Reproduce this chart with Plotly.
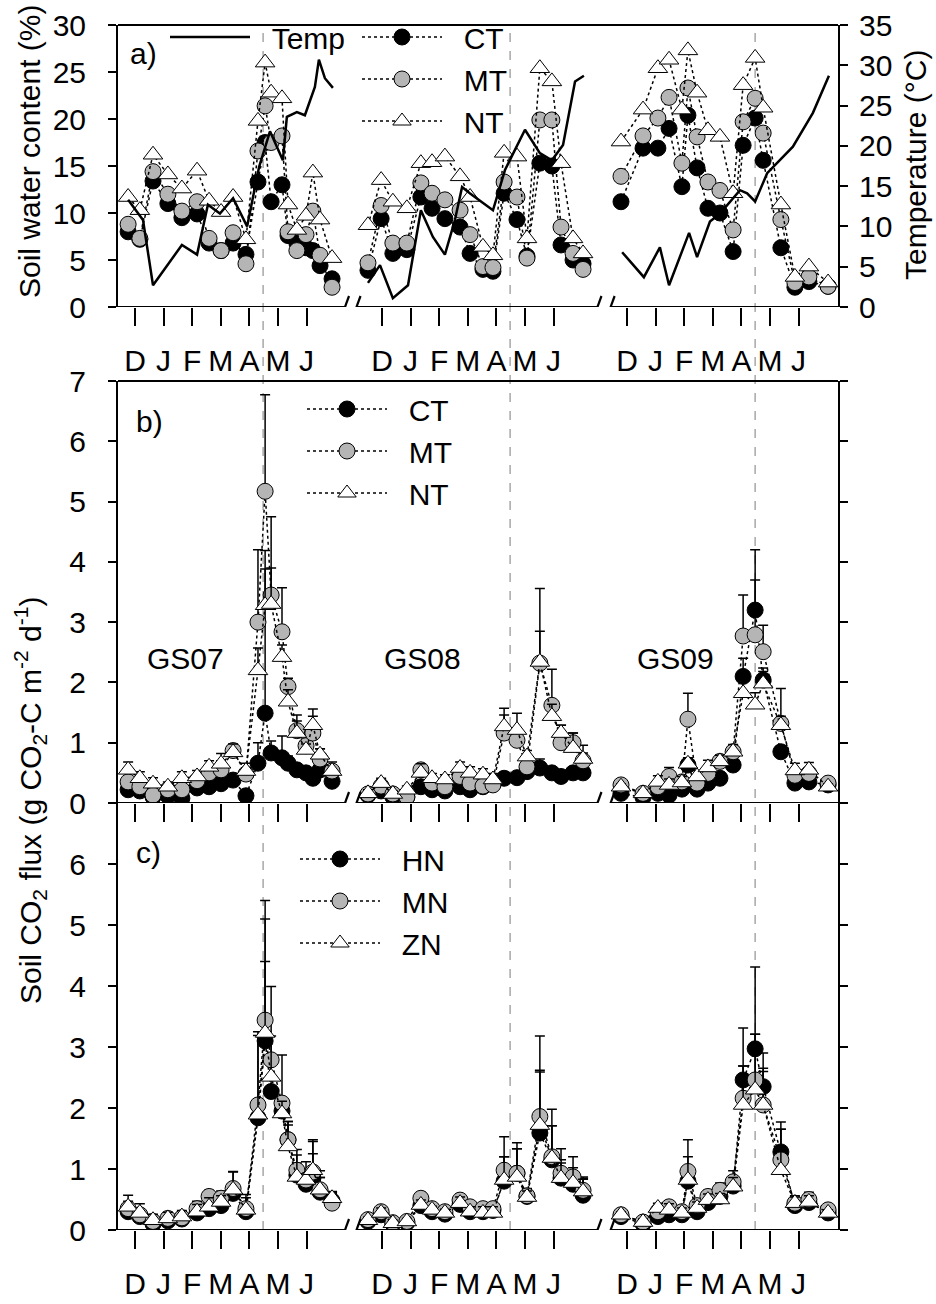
import plotly.graph_objects as go

FONT = "Liberation Sans, Arial, sans-serif"

# ---------------- data ----------------
month_labels = ["D", "J", "F", "M", "A", "M", "J"]
season_names = ["GS07", "GS08", "GS09"]

# sampling dates in months after the December tick of each growing season
dates_gs07 = [-0.24, 0.17, 0.63, 1.15, 1.64, 2.17, 2.59, 3.01, 3.43, 3.88,
              4.30, 4.55, 4.76, 5.14, 5.35, 5.66, 5.98, 6.22, 6.47, 6.89]
dates_gs08 = [-0.49, -0.03, 0.38, 0.87, 1.36, 1.75, 2.20, 2.73, 3.08, 3.53,
              3.88, 4.27, 4.72, 5.07, 5.52, 5.94, 6.26, 6.68, 7.03]
dates_gs09 = [-0.21, 0.56, 1.08, 1.47, 1.92, 2.13, 2.45, 2.83, 3.25, 3.71,
              4.06, 4.48, 4.76, 5.38, 5.87, 6.36, 7.03]
planting_month = 4.48

temp_dates_gs07 = [-0.24, 0.28, 0.63, 1.64, 2.17, 2.55, 2.97, 3.43, 3.92, 4.34,
                   4.72, 5.17, 5.31, 5.66, 5.94, 6.29, 6.43, 6.64, 6.92]
temp_dates_gs08 = [-0.49, -0.07, 0.38, 0.91, 1.36, 1.78, 2.20, 2.55, 2.80, 3.08,
                   3.88, 4.30, 5.00, 5.52, 5.94, 6.33, 6.75, 7.06]
temp_dates_gs09 = [-0.17, 0.59, 1.15, 1.47, 2.17, 2.45, 2.90, 3.25, 3.95, 4.20,
                   4.48, 4.90, 5.80, 6.50, 7.06]
air_temp = [13.3, 10.8, 2.7, 7.7, 6.5, 12.7, 11.6, 13.5, 10.0, 17.4,
            21.8, 18.2, 23.6, 24.2, 23.8, 27.3, 30.7, 28.4, 27.2,
            3.0, 5.2, 1.1, 2.7, 12.0, 8.7, 6.5, 10.8, 14.9, 14.1,
            12.0, 17.0, 22.0, 19.1, 18.2, 20.1, 28.0, 28.7,
            6.8, 3.7, 7.4, 2.7, 9.2, 6.2, 10.6, 11.6, 14.5, 14.1,
            13.1, 16.6, 19.9, 24.1, 28.7]

# panel a: soil water content (%)
swc_ct = [8.0, 7.2, 13.4, 11.0, 9.5, 9.9, 6.8, 6.0, 6.8, 5.6, 13.3, 17.5, 11.2, 13.0, 7.6, 6.8, 6.3, 6.0, 4.4, 3.0,
          3.9, 9.4, 5.7, 6.1, 11.7, 10.5, 9.4, 8.5, 5.7, 4.0, 3.8, 12.1, 9.3, 5.4, 15.3, 15.0, 6.6, 5.0, 4.6,
          11.2, 16.9, 16.9, 19.0, 12.8, 20.4, 14.8, 10.5, 10.0, 5.9, 17.2, 20.1, 15.6, 6.3, 2.1, 2.7, 2.2]
swc_mt = [8.8, 7.3, 14.4, 12.0, 10.2, 11.2, 7.3, 6.0, 7.9, 4.6, 16.6, 21.4, 17.5, 18.2, 8.0, 6.0, 7.7, 10.2, 5.5, 2.1,
          4.7, 10.8, 6.8, 6.8, 13.2, 12.1, 11.4, 10.3, 7.7, 4.3, 4.2, 13.3, 11.7, 5.2, 19.9, 19.9, 8.5, 5.7, 4.0,
          13.9, 18.2, 20.1, 22.3, 15.3, 23.3, 18.1, 13.3, 12.4, 8.2, 19.7, 22.2, 18.5, 9.3, 2.6, 3.2, 2.2]
swc_nt = [11.7, 10.3, 16.2, 14.1, 12.6, 14.5, 11.3, 10.1, 11.7, 7.2, 19.8, 26.0, 22.8, 22.2, 10.9, 8.2, 9.7, 14.3, 9.3, 5.2,
          8.7, 13.5, 11.2, 10.5, 15.3, 15.4, 16.0, 13.9, 11.7, 6.4, 5.5, 16.4, 16.0, 7.3, 25.4, 24.0, 15.3, 7.3, 5.7,
          17.6, 21.0, 25.4, 26.3, 21.0, 27.3, 22.8, 18.8, 18.1, 12.1, 23.6, 26.5, 21.2, 10.9, 3.2, 4.3, 2.6]

# panel b: soil CO2 flux by tillage (g CO2-C m-2 d-1) and standard error
flux_ct = [0.22, 0.20, 0.10, 0.12, 0.08, 0.25, 0.27, 0.32, 0.38, 0.12, 0.66, 1.49, 0.83, 0.75, 0.66, 0.55, 0.50, 0.41, 0.55, 0.36,
           0.13, 0.20, 0.10, 0.10, 0.27, 0.22, 0.20, 0.27, 0.22, 0.27, 0.35, 0.41, 0.42, 0.52, 0.58, 0.50, 0.44, 0.50, 0.50,
           0.16, 0.09, 0.16, 0.13, 0.23, 0.63, 0.23, 0.33, 0.41, 0.63, 2.10, 3.20, 2.04, 0.85, 0.33, 0.35, 0.30]
flux_ct_se = [0.10, 0.08, 0.05, 0.05, 0.05, 0.08, 0.08, 0.10, 0.10, 0.05, 0.34, 2.70, 0.20, 0.36, 0.12, 0.10, 0.10, 0.10, 0.10, 0.08,
              0.05, 0.05, 0.05, 0.05, 0.05, 0.05, 0.05, 0.05, 0.05, 0.05, 0.05, 0.10, 0.08, 0.10, 0.15, 0.10, 0.10, 0.10, 0.10,
              0.05, 0.05, 0.05, 0.05, 0.05, 0.10, 0.05, 0.05, 0.10, 0.10, 0.30, 0.50, 0.20, 0.10, 0.10, 0.10, 0.05]
flux_mt = [0.35, 0.27, 0.13, 0.22, 0.22, 0.37, 0.50, 0.55, 0.87, 0.48, 3.00, 5.17, 3.45, 2.84, 1.93, 1.20, 0.95, 1.16, 0.73, 0.53,
           0.15, 0.28, 0.15, 0.10, 0.55, 0.33, 0.27, 0.44, 0.33, 0.28, 0.30, 1.16, 1.04, 0.60, 2.32, 1.62, 1.00, 1.00, 0.70,
           0.30, 0.16, 0.27, 0.44, 0.35, 1.39, 0.33, 0.49, 0.69, 0.85, 2.77, 2.79, 2.51, 1.32, 0.46, 0.49, 0.33]
flux_mt_se = [0.15, 0.10, 0.10, 0.08, 0.10, 0.10, 0.12, 0.15, 0.10, 0.10, 1.20, 1.60, 1.30, 0.73, 0.14, 0.26, 0.10, 0.40, 0.17, 0.10,
              0.05, 0.10, 0.05, 0.05, 0.10, 0.08, 0.08, 0.10, 0.08, 0.08, 0.08, 0.30, 0.20, 0.15, 1.24, 0.60, 0.29, 0.16, 0.26,
              0.05, 0.05, 0.08, 0.15, 0.08, 0.43, 0.10, 0.10, 0.10, 0.10, 0.68, 1.41, 0.44, 0.58, 0.10, 0.10, 0.05]
flux_nt = [0.55, 0.41, 0.32, 0.27, 0.41, 0.44, 0.60, 0.65, 0.84, 0.53, 2.20, 3.28, 3.30, 2.42, 1.68, 1.16, 0.88, 1.29, 0.80, 0.53,
           0.16, 0.33, 0.15, 0.22, 0.50, 0.41, 0.39, 0.58, 0.50, 0.47, 0.39, 1.27, 1.21, 0.77, 2.34, 1.44, 1.16, 0.91, 0.73,
           0.27, 0.16, 0.35, 0.30, 0.34, 0.65, 0.44, 0.59, 0.69, 0.85, 1.82, 1.63, 1.98, 1.29, 0.54, 0.55, 0.27]
flux_nt_se = [0.13, 0.11, 0.10, 0.08, 0.11, 0.10, 0.10, 0.17, 0.14, 0.13, 0.37, 0.60, 0.60, 0.20, 0.20, 0.20, 0.10, 0.15, 0.10, 0.15,
              0.06, 0.08, 0.05, 0.06, 0.15, 0.08, 0.08, 0.10, 0.10, 0.10, 0.10, 0.30, 0.28, 0.10, 0.51, 0.20, 0.13, 0.25, 0.10,
              0.05, 0.05, 0.10, 0.10, 0.10, 0.10, 0.10, 0.12, 0.10, 0.12, 0.20, 0.20, 0.20, 0.15, 0.12, 0.12, 0.05]

# panel c: soil CO2 flux by N rate
flux_hn = [0.30, 0.22, 0.10, 0.15, 0.18, 0.28, 0.35, 0.40, 0.60, 0.30, 1.84, 3.10, 2.27, 1.95, 1.48, 0.90, 0.75, 0.85, 0.62, 0.48,
           0.14, 0.25, 0.10, 0.12, 0.40, 0.30, 0.26, 0.42, 0.30, 0.30, 0.32, 0.80, 0.93, 0.55, 1.59, 1.15, 0.85, 0.75, 0.57,
           0.22, 0.10, 0.22, 0.25, 0.25, 0.80, 0.30, 0.45, 0.55, 0.72, 2.46, 2.97, 2.35, 1.28, 0.40, 0.45, 0.28]
flux_hn_se = [0.10, 0.08, 0.05, 0.05, 0.05, 0.10, 0.10, 0.10, 0.15, 0.10, 0.25, 2.00, 0.60, 0.20, 0.30, 0.20, 0.20, 0.40, 0.35, 0.15,
              0.05, 0.05, 0.05, 0.05, 0.05, 0.05, 0.05, 0.05, 0.05, 0.05, 0.05, 0.40, 0.40, 0.10, 1.00, 0.56, 0.30, 0.20, 0.30,
              0.05, 0.05, 0.05, 0.05, 0.05, 0.10, 0.05, 0.10, 0.10, 0.10, 0.23, 0.24, 0.55, 0.49, 0.10, 0.10, 0.05]
flux_mn = [0.35, 0.25, 0.14, 0.19, 0.20, 0.35, 0.55, 0.52, 0.68, 0.35, 2.05, 3.44, 2.79, 2.08, 1.48, 0.98, 0.82, 0.95, 0.66, 0.44,
           0.17, 0.30, 0.12, 0.14, 0.52, 0.35, 0.30, 0.49, 0.38, 0.35, 0.35, 0.98, 0.93, 0.56, 1.86, 1.20, 0.93, 0.87, 0.65,
           0.25, 0.13, 0.30, 0.38, 0.30, 0.96, 0.40, 0.55, 0.65, 0.79, 2.16, 2.46, 2.05, 1.15, 0.44, 0.50, 0.33]
flux_mn_se = [0.12, 0.10, 0.06, 0.08, 0.10, 0.12, 0.10, 0.12, 0.27, 0.18, 1.20, 1.96, 1.20, 0.79, 0.30, 0.25, 0.30, 0.50, 0.20, 0.16,
              0.05, 0.05, 0.05, 0.05, 0.10, 0.08, 0.08, 0.10, 0.08, 0.08, 0.08, 0.55, 0.50, 0.12, 1.32, 0.78, 0.40, 0.33, 0.20,
              0.05, 0.05, 0.10, 0.10, 0.08, 0.52, 0.10, 0.10, 0.12, 0.18, 1.15, 1.85, 0.55, 0.50, 0.12, 0.12, 0.05]
flux_zn = [0.38, 0.28, 0.16, 0.19, 0.22, 0.30, 0.38, 0.46, 0.66, 0.33, 1.89, 3.23, 2.51, 1.91, 1.37, 0.87, 0.82, 0.98, 0.66, 0.52,
           0.16, 0.28, 0.11, 0.14, 0.41, 0.33, 0.28, 0.44, 0.30, 0.28, 0.28, 0.82, 0.87, 0.54, 1.72, 1.18, 0.85, 0.77, 0.63,
           0.25, 0.13, 0.36, 0.33, 0.28, 0.82, 0.36, 0.49, 0.50, 0.71, 2.05, 2.30, 2.05, 0.98, 0.44, 0.46, 0.28]
flux_zn_se = [0.19, 0.15, 0.10, 0.10, 0.10, 0.12, 0.15, 0.10, 0.30, 0.25, 1.30, 1.17, 0.67, 0.20, 0.35, 0.45, 0.10, 0.50, 0.20, 0.10,
              0.05, 0.08, 0.05, 0.05, 0.08, 0.06, 0.06, 0.10, 0.08, 0.10, 0.10, 0.38, 0.46, 0.10, 0.90, 0.53, 0.25, 0.25, 0.20,
              0.05, 0.05, 0.08, 0.10, 0.08, 0.38, 0.10, 0.10, 0.10, 0.15, 0.64, 0.91, 0.60, 0.67, 0.10, 0.10, 0.05]

# ---------------- layout helpers ----------------
SEASON_SHIFT = [0.0, 8.636, 17.203]         # position of each season on the broken axis
X_RANGE = [-0.594, 24.58]
BREAKS = [(7.343, 7.745), (16.17, 16.63)]   # axis-break gaps (slash positions)
PL, PR, PT, PB = 118, 838, 25, 1230
LEG_PAD = "\u00a0\u00a0"


def fx(px):
    return (px - PL) / (PR - PL)


def fy(py):
    return (PB - py) / (PB - PT)


Y_A = fy(307)
Y_BT = fy(381)
Y_BB = fy(803)

seg_lengths = [len(dates_gs07), len(dates_gs08), len(dates_gs09)]
temp_lengths = [len(temp_dates_gs07), len(temp_dates_gs08), len(temp_dates_gs09)]


def join_segments(values, lengths, shift=False, fill=None):
    out, i = [], 0
    for k, n in enumerate(lengths):
        chunk = values[i:i + n]
        i += n
        if shift:
            chunk = [v + SEASON_SHIFT[k] for v in chunk]
        out += list(chunk) + [fill]
    return out[:-1]


X = join_segments(dates_gs07 + dates_gs08 + dates_gs09, seg_lengths, shift=True)
XT = join_segments(temp_dates_gs07 + temp_dates_gs08 + temp_dates_gs09, temp_lengths, shift=True)

fig = go.Figure()

STYLES = {
    "black": dict(symbol="circle", size=16, color="black"),
    "gray": dict(symbol="circle", size=16, color="#b5b5b5"),
    "white": dict(symbol="triangle-up", size=17, color="white"),
}


def add_series(name, y, err, style, xa, ya, legend):
    st = STYLES[style]
    kw = {}
    if err is not None:
        kw["error_y"] = dict(type="data", symmetric=False,
                             array=join_segments(err, seg_lengths, fill=0),
                             arrayminus=[0] * len(X), color="black",
                             thickness=1.5, width=5)
    fig.add_trace(go.Scatter(
        x=X, y=join_segments(y, seg_lengths), name=LEG_PAD + name, mode="lines+markers",
        line=dict(color="black", width=1.5, dash="dot"),
        marker=dict(symbol=st["symbol"], size=st["size"], color=st["color"],
                    line=dict(color="black", width=1)),
        xaxis=xa, yaxis=ya, legend=legend, connectgaps=False, **kw))


# panel a
fig.add_trace(go.Scatter(x=XT, y=join_segments(air_temp, temp_lengths), name=LEG_PAD + "Temp",
                         mode="lines", line=dict(color="black", width=2.5),
                         xaxis="x3", yaxis="y4", legend="legend", connectgaps=False))
add_series("CT", swc_ct, None, "black", "x3", "y3", "legend2")
add_series("MT", swc_mt, None, "gray", "x3", "y3", "legend2")
add_series("NT", swc_nt, None, "white", "x3", "y3", "legend2")
# panel b
add_series("CT", flux_ct, flux_ct_se, "black", "x2", "y2", "legend3")
add_series("MT", flux_mt, flux_mt_se, "gray", "x2", "y2", "legend3")
add_series("NT", flux_nt, flux_nt_se, "white", "x2", "y2", "legend3")
# panel c
add_series("HN", flux_hn, flux_hn_se, "black", "x", "y", "legend4")
add_series("MN", flux_mn, flux_mn_se, "gray", "x", "y", "legend4")
add_series("ZN", flux_zn, flux_zn_se, "white", "x", "y", "legend4")

tickvals = [s + m for s in SEASON_SHIFT for m in range(len(month_labels))]
ticktext = month_labels * len(SEASON_SHIFT)

xcommon = dict(range=X_RANGE, tickvals=tickvals, ticktext=ticktext, ticks="outside",
               ticklen=18, tickwidth=2, tickcolor="black", showline=False,
               showgrid=False, zeroline=False, domain=[0, 1],
               tickfont=dict(size=30, family=FONT, color="black"))
ycommon = dict(ticks="outside", ticklen=8, tickwidth=2, tickcolor="black", showline=True,
               linewidth=2, linecolor="black", showgrid=False, zeroline=False,
               tickfont=dict(size=30, family=FONT, color="black"))

legend_common = dict(font=dict(size=30, family=FONT, color="black"), bgcolor="rgba(0,0,0,0)",
                     borderwidth=0, xanchor="left", yanchor="top", itemwidth=80,
                     tracegroupgap=0, orientation="v")

fig.update_layout(
    width=936, height=1304,
    margin=dict(l=PL, r=936 - PR, t=PT, b=1304 - PB, autoexpand=False),
    paper_bgcolor="white", plot_bgcolor="rgba(0,0,0,0)",
    font=dict(family=FONT, size=30, color="black"),
    showlegend=True,
    xaxis=dict(**xcommon, anchor="y", ticklabelstandoff=9),
    xaxis2=dict(**xcommon, anchor="y2", showticklabels=False),
    xaxis3=dict(**xcommon, anchor="y3", ticklabelstandoff=9),
    yaxis=dict(**ycommon, domain=[0, Y_BB], range=[0, 7], tickvals=[0, 1, 2, 3, 4, 5, 6],
               mirror="ticks", anchor="x", ticklabelstandoff=16),
    yaxis2=dict(**ycommon, domain=[Y_BB, Y_BT], range=[0, 7],
                tickvals=[0, 1, 2, 3, 4, 5, 6, 7], mirror="ticks", anchor="x2",
                ticklabelstandoff=16),
    yaxis3=dict(**ycommon, domain=[Y_A, 1], range=[0, 30], dtick=5, anchor="x3",
                ticklabelstandoff=16),
    yaxis4=dict(**ycommon, range=[0, 35], dtick=5, overlaying="y3", side="right",
                anchor="x3", ticklabelstandoff=5),
    legend=dict(**legend_common, x=fx(165), y=fy(11)),
    legend2=dict(**legend_common, x=fx(357), y=fy(11)),
    legend3=dict(**legend_common, x=fx(302), y=fy(383)),
    legend4=dict(**legend_common, x=fx(295), y=fy(833)),
)

shapes = []
# top borders of panels a and b
for yb in (1.0, Y_BT):
    shapes.append(dict(type="line", xref="paper", yref="paper", x0=0, x1=1, y0=yb, y1=yb,
                       line=dict(color="black", width=2)))
# broken bottom axes
edges = [X_RANGE[0], BREAKS[0][0], BREAKS[0][1], BREAKS[1][0], BREAKS[1][1], X_RANGE[1]]
for xa, ya in (("x", "y"), ("x2", "y2"), ("x3", "y3")):
    for a, b in ((edges[0], edges[1]), (edges[2], edges[3]), (edges[4], edges[5])):
        shapes.append(dict(type="line", xref=xa, yref=ya, x0=a, x1=b, y0=0, y1=0,
                           line=dict(color="black", width=2)))
    for pair in BREAKS:
        for bx in pair:
            shapes.append(dict(type="line", xref=xa, yref=ya, xsizemode="pixel",
                               ysizemode="pixel", xanchor=bx, yanchor=0,
                               x0=-4, x1=4, y0=-11, y1=11,
                               line=dict(color="black", width=2.2)))
# planting-date dashed lines
for s in SEASON_SHIFT:
    shapes.append(dict(type="line", xref="x", yref="paper", x0=s + planting_month,
                       x1=s + planting_month, y0=0, y1=1, layer="below",
                       line=dict(color="#a8a8a8", width=1.5, dash="dash")))
fig.update_layout(shapes=shapes)

annotations = []


def label(text, px, py, size=30, angle=0):
    annotations.append(dict(text=text, xref="paper", yref="paper", x=fx(px), y=fy(py),
                            xanchor="center", yanchor="middle", showarrow=False,
                            textangle=angle, font=dict(size=size, family=FONT, color="black")))


label("a)", 143, 53)
label("b)", 149, 421)
label("c)", 148, 852)
for name, px in zip(season_names, (185, 422, 675)):
    label(name, px, 658)
label("Soil water content (%)", 30, 152, angle=-90)
label("Temperature (°C)", 915, 165, angle=-90)
label("Soil CO<sub>2</sub> flux (g CO<sub>2</sub>-C m<sup>-2</sup> d<sup>-1</sup>)", 30, 800, angle=-90)
fig.update_layout(annotations=annotations)

fig.write_html("out.html")
